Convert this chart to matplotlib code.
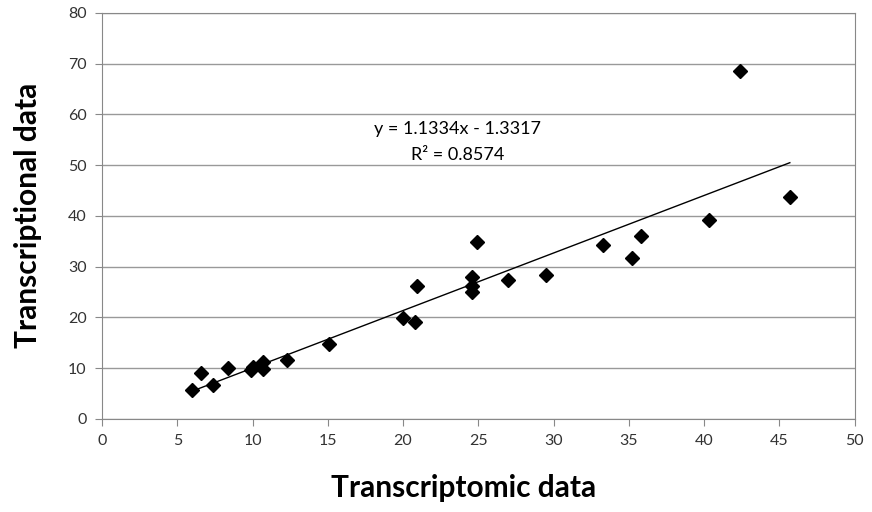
import matplotlib
matplotlib.use("Agg")
import matplotlib.pyplot as plt
import numpy as np

# values
transcriptomic = [6.0, 6.6, 7.4, 8.4, 10.0, 9.9, 10.7, 10.7, 12.3, 15.1,
                  20.0, 20.8, 20.9, 24.6, 24.6, 24.6, 24.9, 27.0, 29.5,
                  33.3, 35.2, 35.8, 40.3, 42.4, 45.7]
transcriptional = [5.6, 9.1, 6.7, 10.0, 10.3, 9.6, 11.2, 9.9, 11.6, 14.8,
                   19.9, 19.0, 26.2, 28.0, 26.1, 24.9, 34.8, 27.4, 28.4,
                   34.3, 31.6, 36.1, 39.2, 68.6, 43.8]
slope = 1.1334
intercept = -1.3317
r2 = 0.8574

plt.rcParams['font.family'] = ['Lato', 'DejaVu Sans']

fig = plt.figure(figsize=(8.72, 5.12), dpi=100)
ax = fig.add_axes([0.117, 0.182, 0.863, 0.793])

gray = '#888888'
ax.set_xlim(0, 50)
ax.set_ylim(0, 80)
ax.set_xticks(np.arange(0, 51, 5))
ax.set_yticks(np.arange(0, 81, 10))
ax.yaxis.grid(True, color='#999999', linewidth=1.0)
ax.set_axisbelow(True)
for s in ax.spines.values():
    s.set_color(gray)
ax.tick_params(direction='out', color=gray, length=5, labelsize=11.5,
               labelcolor='#333333', pad=6)

# linear trendline from the equation shown
xs = np.array([min(transcriptomic), max(transcriptomic)])
ax.plot(xs, slope * xs + intercept, color='black', linewidth=1.0)
ax.plot(transcriptomic, transcriptional, linestyle='none', marker='D',
        markersize=7, color='black')

ax.text(23.6, 57.1, f"y = {slope}x - {abs(intercept)}", ha='center',
        va='center', fontsize=13)
ax.text(23.6, 52.0, f"R² = {r2}", ha='center', va='center', fontsize=13)

ax.set_xlabel('Transcriptomic data', fontsize=21.5, fontweight='bold')
ax.xaxis.set_label_coords(0.48, -0.135)
ax.set_ylabel('Transcriptional data', fontsize=21.5, fontweight='bold', labelpad=19)

fig.savefig('out.png', dpi=100)
